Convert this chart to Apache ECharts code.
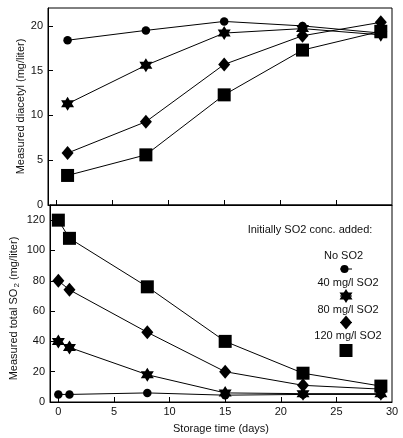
<!DOCTYPE html>
<html>
<head>
<meta charset="utf-8">
<script src="https://cdn.jsdelivr.net/npm/echarts@6/dist/echarts.min.js"></script>
<style>
html,body{margin:0;padding:0;background:#fff;}
#chart{width:403px;height:438px;}
</style>
</head>
<body>
<div id="chart"></div>
<script>
// ---- data ----
var topDays = [1, 8, 15, 22, 29];
var diacetylNoSO2 = [18.4, 19.5, 20.5, 20.0, 19.2];
var diacetyl40 = [11.3, 15.6, 19.2, 19.7, 19.0];
var diacetyl80 = [5.8, 9.3, 15.7, 18.9, 20.4];
var diacetyl120 = [3.3, 5.6, 12.3, 17.3, 19.4];

var bottomDays = [0, 1, 8, 15, 22, 29];
var so2NoSO2 = [5, 5, 6, 4.5, 5, 5];
var so2_40 = [40, 36, 18, 6, 5.5, 5.5];
var so2_80 = [80, 74, 46, 20, 11, 8.5];
var so2_120 = [120, 108, 76, 40, 19, 10.5];

var xTicks = [0, 5, 10, 15, 20, 25];
var xTickLabels = [0, 5, 10, 15, 20, 25, 30];
var yTopTicks = [0, 5, 10, 15, 20];
var yBottomTicks = [0, 20, 40, 60, 80, 100, 120];

var legendTitle = 'Initially SO2 conc. added:';
var legendNames = ['No SO2', '40 mg/l SO2', '80 mg/l SO2', '120 mg/l SO2'];

// ---- styles ----
var FONT = "'Liberation Sans', Arial, Helvetica, sans-serif";
var STAR = 'path://M100,0 L128.87,50 L186.6,50 L157.7,100 L186.6,150 L128.87,150 L100,200 L71.13,150 L13.4,150 L42.3,100 L13.4,50 L71.13,50 Z';
var markers = [
  {symbol: 'circle', size: 8.5},
  {symbol: STAR, size: [13, 14]},
  {symbol: 'diamond', size: [12, 14]},
  {symbol: 'rect', size: 13}
];

function pairs(xs, ys) { return xs.map(function (x, i) { return [x, ys[i]]; }); }

var axisLine = {show: true, onZero: false, lineStyle: {color: '#000', width: 1}};
var labelStyle = {color: '#111', fontFamily: FONT, fontSize: 11};

function xAxis(gridIndex, showLabels) {
  return {
    type: 'value', gridIndex: gridIndex, min: -0.75, max: 30,
    axisLine: axisLine,
    axisTick: {show: true, inside: true, length: 5, lineStyle: {color: '#000'}, customValues: xTicks},
    axisLabel: Object.assign({show: showLabels, margin: 4, customValues: xTickLabels}, labelStyle),
    splitLine: {show: false},
    name: showLabels ? 'Storage time (days)' : '',
    nameLocation: 'middle', nameGap: 21, nameMoveOverlap: false,
    nameTextStyle: {color: '#111', fontFamily: FONT, fontSize: 11}
  };
}
function yAxis(gridIndex, max, ticks, name, nameGap, namePad) {
  return {
    type: 'value', gridIndex: gridIndex, min: 0, max: max,
    axisLine: axisLine,
    axisTick: {show: true, inside: true, length: 5, lineStyle: {color: '#000'}, customValues: ticks},
    axisLabel: Object.assign({margin: 5, customValues: ticks}, labelStyle),
    splitLine: {show: false},
    name: name, nameLocation: 'middle', nameGap: nameGap, nameMoveOverlap: false,
    nameTextStyle: {color: '#111', fontFamily: FONT, fontSize: 11, padding: namePad,
      rich: {sub: {fontSize: 8, fontFamily: FONT, color: '#111', padding: [7, 0, 0, 1]}}}
  };
}

function series(xi, data, k) {
  return {
    type: 'line', xAxisIndex: xi, yAxisIndex: xi, data: data,
    symbol: markers[k].symbol, symbolSize: markers[k].size,
    lineStyle: {color: '#000', width: 1},
    itemStyle: {color: '#000', borderWidth: 0},
    z: 2 + k, animation: false, silent: true
  };
}

// ---- legend graphics (bottom panel) ----
var lx = 346;
var legendTextY = [256, 283, 309.5, 336];
var legendMarkY = [269, 296, 322.5, 350.5];
var graphics = [];
graphics.push({type: 'text', x: 310, y: 230, silent: true,
  style: {text: legendTitle, fill: '#111', font: '11px ' + FONT, align: 'center', verticalAlign: 'middle'}});
legendNames.forEach(function (n, i) {
  graphics.push({type: 'text', x: (i === 0 ? 343.5 : 348), y: legendTextY[i], silent: true,
    style: {text: n, fill: '#111', font: '11px ' + FONT, align: 'center', verticalAlign: 'middle'}});
  var my = legendMarkY[i];
  graphics.push({type: 'line', silent: true, shape: {x1: lx - 6, y1: my, x2: lx + 6, y2: my}, style: {stroke: '#000', lineWidth: 1}});
  if (i === 0) {
    graphics.push({type: 'circle', silent: true, shape: {cx: lx - 1.5, cy: my, r: 4}, style: {fill: '#000'}});
  } else if (i === 1) {
    var sx = 6.5 / 0.866, sy = 7;
    graphics.push({type: 'polygon', silent: true, shape: {points: [[lx, my - sy], [lx + 0.866 * sx, my + 0.5 * sy], [lx - 0.866 * sx, my + 0.5 * sy]]}, style: {fill: '#000'}});
    graphics.push({type: 'polygon', silent: true, shape: {points: [[lx, my + sy], [lx + 0.866 * sx, my - 0.5 * sy], [lx - 0.866 * sx, my - 0.5 * sy]]}, style: {fill: '#000'}});
  } else if (i === 2) {
    graphics.push({type: 'polygon', silent: true, shape: {points: [[lx, my - 7], [lx + 6, my], [lx, my + 7], [lx - 6, my]]}, style: {fill: '#000'}});
  } else {
    graphics.push({type: 'rect', silent: true, shape: {x: lx - 6.5, y: my - 6.5, width: 13, height: 13}, style: {fill: '#000'}});
  }
});

var chart = echarts.init(document.getElementById('chart'), null, {renderer: 'canvas'});
chart.setOption({
  backgroundColor: '#fff',
  animation: false,
  grid: [
    {left: 48, right: 11, top: 8, height: 197, show: true, borderColor: '#000', borderWidth: 1, backgroundColor: 'transparent'},
    {left: 48, right: 11, top: 205, height: 197, show: true, borderColor: '#000', borderWidth: 1, backgroundColor: 'transparent'}
  ],
  xAxis: [xAxis(0, false), xAxis(1, true)],
  yAxis: [
    yAxis(0, 22, yTopTicks, 'Measured diacetyl (mg/liter)', 22, 0),
    yAxis(1, 130, yBottomTicks, 'Measured total SO{sub|2} (mg/liter)', 29, [0, 10, 0, 0])
  ],
  series: [
    series(0, pairs(topDays, diacetylNoSO2), 0),
    series(0, pairs(topDays, diacetyl40), 1),
    series(0, pairs(topDays, diacetyl80), 2),
    series(0, pairs(topDays, diacetyl120), 3),
    series(1, pairs(bottomDays, so2NoSO2), 0),
    series(1, pairs(bottomDays, so2_40), 1),
    series(1, pairs(bottomDays, so2_80), 2),
    series(1, pairs(bottomDays, so2_120), 3)
  ],
  graphic: graphics
});
</script>
</body>
</html>
